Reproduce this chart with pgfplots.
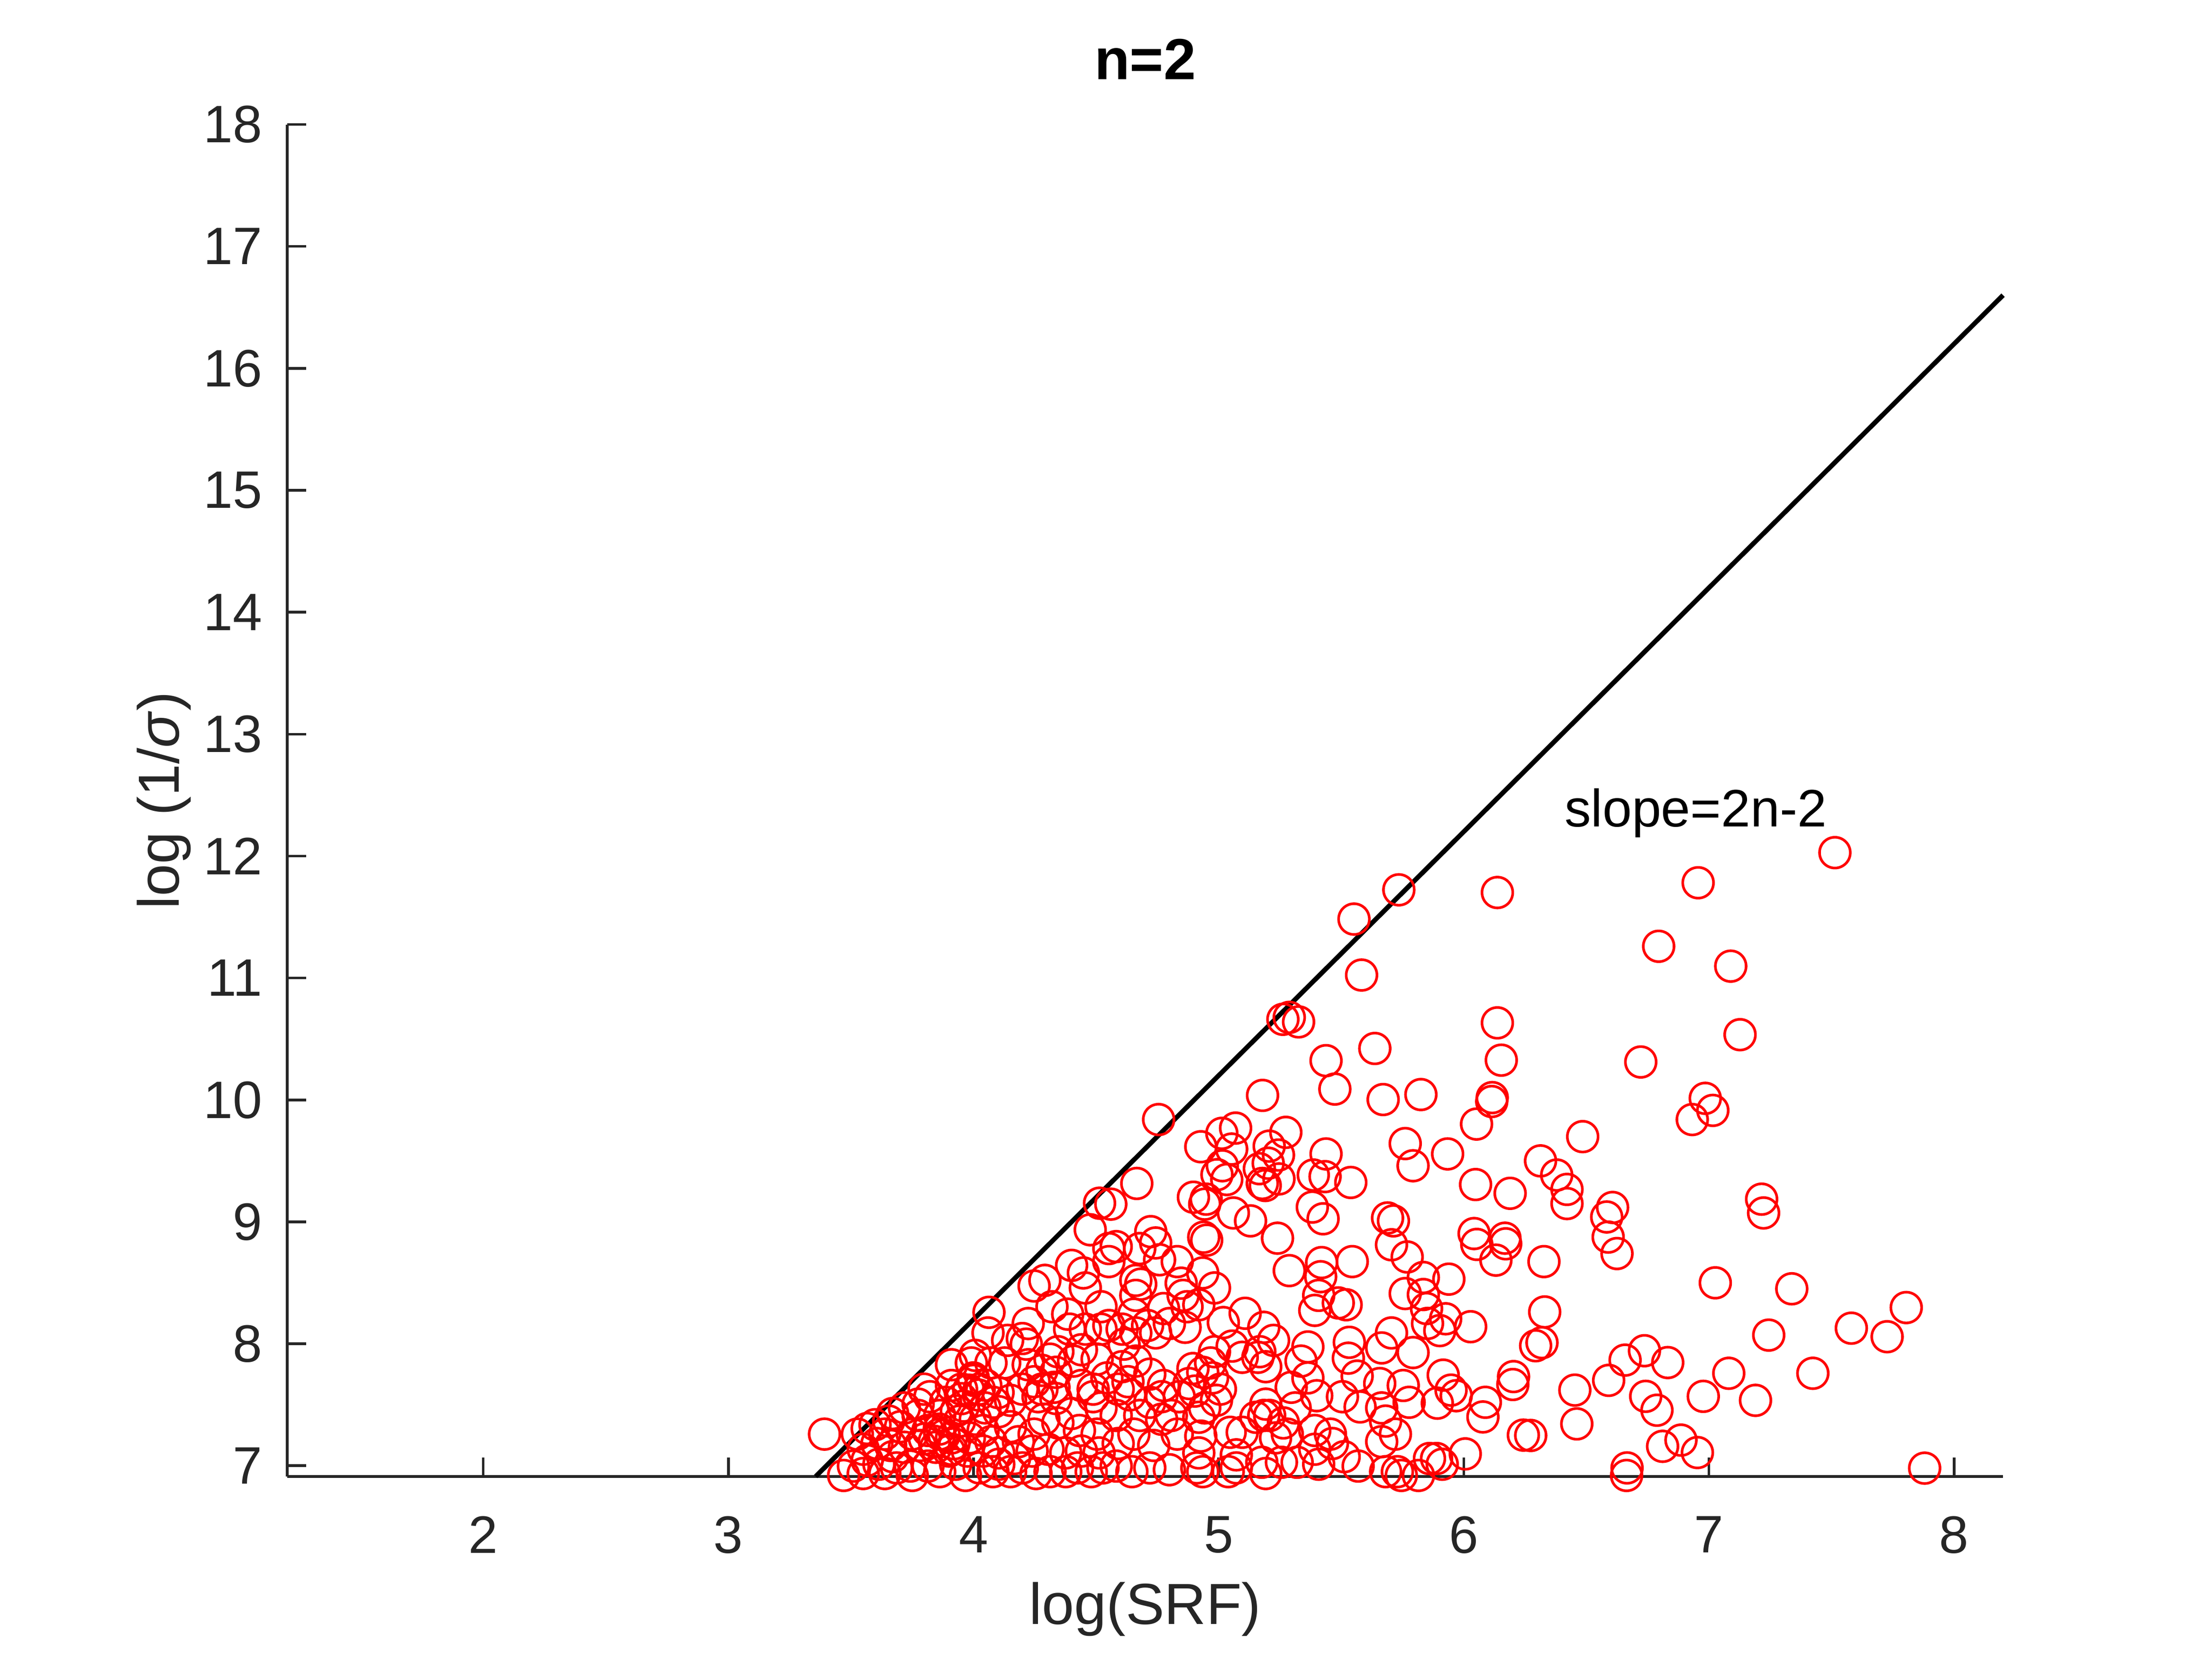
\documentclass[border=0pt]{standalone}
\usepackage{fontspec}
\setmainfont{Liberation Sans}
\usepackage{pgfplots}
\pgfplotsset{compat=1.18}
\definecolor{axgray}{rgb}{0.15,0.15,0.15}
\pgfplotstableread{
x y
5.552 11.483
5.735 11.723
6.137 11.701
6.956 11.781
7.514 12.028
6.795 11.260
5.583 11.024
5.262 10.661
5.288 10.677
5.326 10.640
5.438 10.322
5.474 10.089
5.179 10.037
4.755 9.839
5.013 9.726
5.069 9.769
4.927 9.616
5.053 9.597
5.206 9.621
5.274 9.734
5.244 9.548
5.015 9.460
4.993 9.387
5.033 9.347
5.166 9.436
5.202 9.481
5.246 9.352
5.178 9.315
5.190 9.298
5.438 9.557
5.386 9.384
5.434 9.371
5.539 9.323
5.382 9.121
5.426 9.025
4.897 9.202
4.949 9.186
4.943 9.145
5.060 9.073
5.130 9.008
4.514 9.153
4.560 9.145
4.666 9.315
6.137 10.632
6.153 10.326
5.637 10.422
6.722 10.311
6.116 10.019
6.114 9.987
5.671 10.003
5.825 10.044
6.052 9.802
6.485 9.699
5.761 9.642
5.793 9.460
5.934 9.557
6.313 9.500
6.379 9.384
6.421 9.266
6.421 9.150
6.048 9.306
6.189 9.234
6.607 9.118
6.583 9.040
5.689 9.032
5.713 9.008
7.089 11.097
7.127 10.535
6.985 10.013
7.016 9.914
6.932 9.839
7.215 9.186
7.223 9.073
6.042 8.904
6.053 8.815
6.168 8.866
6.171 8.820
6.131 8.686
6.327 8.674
6.589 8.875
6.625 8.740
7.026 8.500
5.835 8.544
5.939 8.530
5.835 8.404
5.848 8.289
5.926 8.205
5.852 8.167
5.902 8.108
6.028 8.140
6.330 8.261
6.319 8.009
6.293 7.984
5.916 7.743
5.948 7.620
5.969 7.574
5.892 7.513
6.088 7.520
6.078 7.400
6.203 7.731
6.200 7.666
6.453 7.620
6.461 7.343
6.591 7.700
6.658 7.866
6.737 7.943
6.832 7.846
6.742 7.569
6.788 7.455
6.977 7.569
6.243 7.251
6.273 7.248
6.811 7.159
6.886 7.210
6.953 7.108
6.666 6.982
6.664 6.920
6.006 7.097
5.889 7.059
5.860 7.059
5.912 7.012
5.815 6.920
7.338 8.451
7.244 8.071
7.581 8.128
7.727 8.058
7.805 8.297
7.081 7.758
7.190 7.536
7.424 7.758
7.880 6.980
4.723 8.920
4.743 8.827
4.678 8.781
4.582 8.797
4.939 8.874
4.951 8.850
5.240 8.866
5.705 8.812
5.769 8.712
5.288 8.600
5.420 8.666
5.545 8.674
5.416 8.550
5.408 8.397
5.392 8.274
5.488 8.335
5.520 8.320
5.761 8.412
4.831 8.674
4.759 8.689
4.662 8.520
4.682 8.489
4.847 8.497
4.935 8.581
4.983 8.458
4.855 8.397
4.662 8.397
4.654 8.243
4.775 8.289
4.871 8.304
4.919 8.320
5.019 8.174
5.108 8.250
5.184 8.135
5.224 8.028
5.168 7.935
5.160 7.889
5.192 7.812
5.096 7.889
5.364 7.974
5.336 7.858
5.296 7.643
5.364 7.720
5.400 7.574
5.533 8.012
5.529 7.882
5.665 7.966
5.705 8.089
5.793 7.928
5.565 7.735
5.657 7.674
5.753 7.658
5.505 7.566
5.577 7.482
5.665 7.474
5.777 7.520
5.681 7.366
5.721 7.259
5.665 7.197
5.456 7.259
5.464 7.182
5.392 7.289
5.512 7.074
5.569 6.997
5.681 6.951
5.729 6.951
5.745 6.920
5.408 7.012
5.320 7.028
5.280 7.259
5.264 7.351
5.208 7.412
5.192 7.505
5.184 7.412
5.232 7.228
5.256 7.028
5.176 7.028
5.192 6.936
5.072 6.982
5.072 7.089
5.096 7.274
5.047 7.274
4.991 7.536
5.007 7.628
5.055 7.981
4.983 7.935
4.967 7.843
4.935 7.766
4.975 7.720
4.895 7.797
4.879 7.674
4.903 7.612
4.943 7.474
4.919 7.397
4.927 7.243
4.919 7.105
4.911 6.982
4.935 6.951
5.039 6.951
4.831 7.259
4.807 7.412
4.839 7.566
4.767 7.566
4.775 7.658
4.719 7.751
4.662 7.858
4.606 7.812
4.630 7.689
4.638 7.581
4.719 7.520
4.767 7.381
4.678 7.412
4.654 7.259
4.735 7.166
4.799 6.967
4.719 6.982
4.646 6.951
4.582 6.997
4.590 7.182
4.582 7.412
4.590 7.628
4.606 8.120
4.662 8.089
4.710 8.150
4.743 8.089
4.799 8.166
4.863 8.135
4.614 7.997
5.152 7.397
5.312 7.474
5.392 7.135
4.476 8.935
4.552 8.781
4.552 8.674
4.400 8.643
4.448 8.581
4.247 8.474
4.291 8.520
4.456 8.458
4.520 8.304
4.552 8.150
4.320 8.304
4.223 8.166
4.392 8.120
4.456 8.120
4.520 8.120
4.440 7.951
4.408 7.858
4.504 7.874
4.063 8.258
4.059 8.089
4.139 8.028
4.199 8.043
4.215 7.997
4.007 7.905
3.910 7.828
3.991 7.843
4.071 7.843
4.127 7.843
4.223 7.828
4.312 7.874
4.279 7.782
4.336 7.766
4.247 7.689
4.199 7.628
4.279 7.628
4.328 7.643
4.336 7.551
4.263 7.566
4.151 7.536
4.103 7.443
3.999 7.720
4.023 7.628
3.951 7.628
3.910 7.658
3.798 7.628
3.822 7.566
3.886 7.520
3.959 7.489
4.047 7.474
4.007 7.381
3.943 7.366
3.862 7.412
3.774 7.412
3.718 7.474
3.654 7.366
3.598 7.336
3.566 7.305
3.638 7.259
3.702 7.320
3.750 7.259
3.814 7.289
3.862 7.259
3.910 7.228
3.983 7.228
4.039 7.289
4.071 7.197
4.151 7.320
4.183 7.197
4.247 7.259
4.287 7.381
4.344 7.351
4.400 7.428
4.432 7.289
4.504 7.259
4.520 7.474
4.488 7.566
4.440 7.658
4.544 7.720
4.512 7.105
4.440 7.120
4.376 7.105
4.304 7.135
4.239 7.120
4.167 7.059
4.103 7.105
4.039 7.120
3.975 7.120
3.910 7.135
3.846 7.151
3.782 7.166
3.718 7.151
3.662 7.166
3.606 7.182
3.550 7.135
3.566 7.043
3.510 6.997
3.550 6.936
3.614 7.012
3.638 6.936
3.686 6.982
3.742 6.997
3.750 6.920
3.814 6.997
3.862 6.951
3.927 7.012
3.967 6.920
4.023 6.982
4.079 6.951
4.103 7.012
4.151 6.951
4.199 6.982
4.255 6.936
4.312 6.951
4.376 6.951
4.424 6.982
4.480 6.951
4.528 6.982
3.470 6.920
3.670 7.428
3.774 7.505
3.526 7.259
3.670 7.074
4.344 7.935
4.384 8.243
4.488 7.628
3.392 7.259
3.980 7.620
4.020 7.580
4.050 7.660
3.950 7.550
4.080 7.520
4.000 7.700
3.930 7.450
4.100 7.600
3.840 7.200
3.880 7.250
3.920 7.180
3.800 7.220
3.860 7.300
3.900 7.120
}\scatterdata
\begin{document}
\begin{tikzpicture}
\path[use as bounding box] (0,0) rectangle (420pt,315pt);
\begin{axis}[
  at={(54.53pt,34.77pt)}, anchor=south west,
  scale only axis, width=325.8pt, height=256.6pt,
  xmin=1.2, xmax=8.2, ymin=6.912, ymax=18,
  axis x line*=bottom, axis y line*=left,
  axis line style={-, draw=axgray, line width=0.5pt},
  xtick={2,3,4,5,6,7,8}, ytick={7,8,9,10,11,12,13,14,15,16,17,18},
  tick align=inside, major tick length=3.6pt,
  tick style={draw=axgray, line width=0.5pt},
  tick label style={font=\fontsize{10}{12}\selectfont, text=axgray},
  /pgf/number format/assume math mode=true,
  xticklabel style={yshift=-4pt},
  yticklabel style={xshift=-1.2pt},
  clip=false,
  xlabel={log(SRF)}, ylabel={log (1/\textit{σ})},
  label style={font=\fontsize{11}{13}\selectfont, text=axgray},
  xlabel style={at={(axis description cs:0.5,-0.1094)}, anchor=base},
  ylabel style={at={(axis description cs:-0.0718,0.5)}, anchor=center},
  title={\textbf{n=2}},
  title style={at={(axis description cs:0.5,1.0098)}, anchor=base, font=\fontsize{11}{13}\selectfont},
]
\addplot[only marks, mark=o, mark size=2.92pt, color=red, mark options={line width=0.5pt}] table[x=x, y=y] {\scatterdata};
\addplot[black, line width=0.9pt] coordinates {(3.356,6.912) (8.2,16.6)};
\node[anchor=base west, font=\fontsize{10}{12}\selectfont, inner sep=0pt] at (axis cs:6.407,12.24) {slope=2n-2};
\end{axis}
\end{tikzpicture}
\end{document}
